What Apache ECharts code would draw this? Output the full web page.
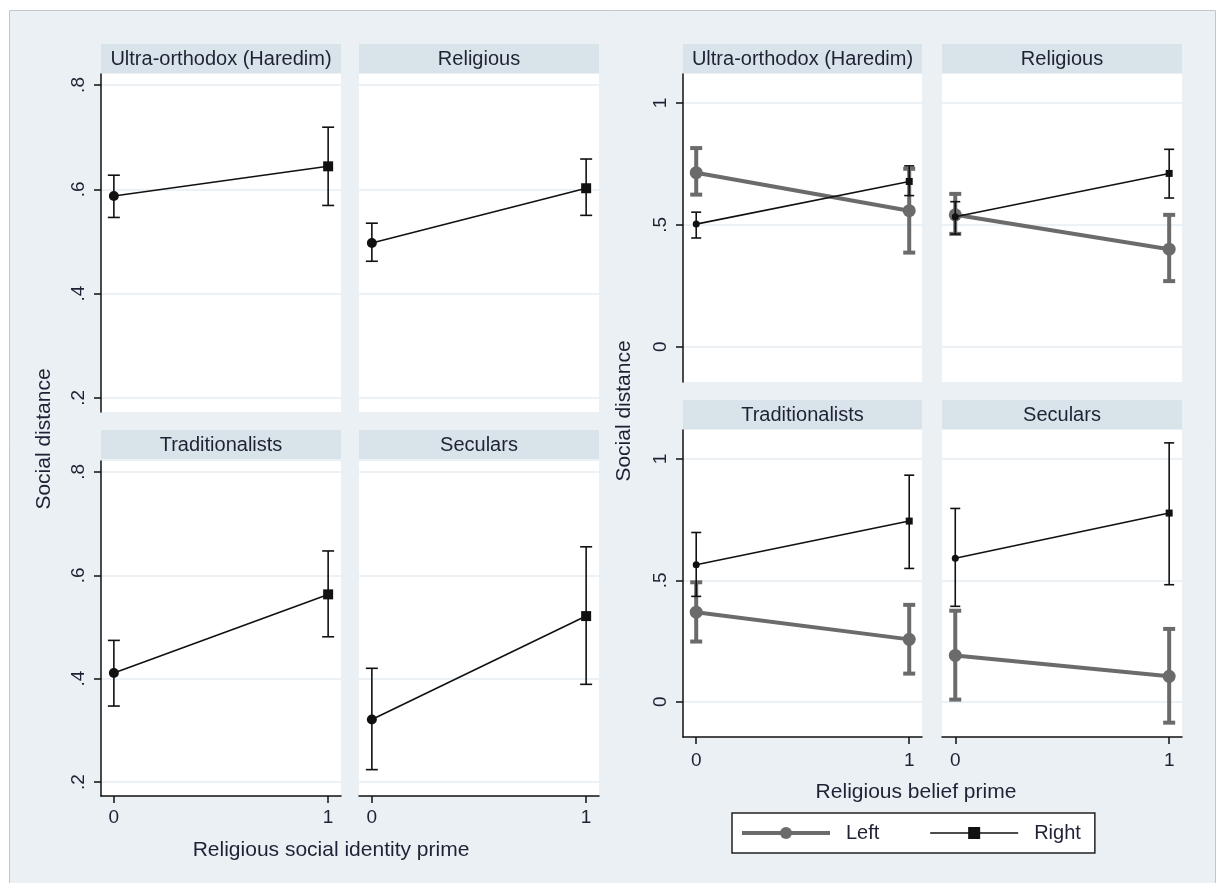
<!DOCTYPE html>
<html>
<head>
<meta charset="utf-8">
<script src="https://cdn.jsdelivr.net/npm/echarts@6/dist/echarts.min.js"></script>
<style>
  body { margin: 0; background: #fff; }
  #main { width: 1218px; height: 883px; }
</style>
</head>
<body>
<div id="main"></div>
<script>
var myChart = echarts.init(document.getElementById('main'));

var groups = ['Ultra-orthodox (Haredim)', 'Religious', 'Traditionalists', 'Seculars'];
var primeLevels = [0, 1];
var identityTicks = [0.2, 0.4, 0.6, 0.8];
var beliefTicks = [0, 0.5, 1];

// left graph: religious social identity prime
var identityMean = [[0.587, 0.644], [0.497, 0.602], [0.411, 0.563], [0.321, 0.521]];
var identityLow  = [[0.546, 0.569], [0.462, 0.550], [0.347, 0.481], [0.224, 0.389]];
var identityHigh = [[0.627, 0.719], [0.535, 0.658], [0.474, 0.647], [0.420, 0.655]];

// right graph: religious belief prime, by political camp
var leftMean  = [[0.714, 0.558], [0.541, 0.400], [0.369, 0.257], [0.191, 0.105]];
var leftLow   = [[0.624, 0.386], [0.463, 0.269], [0.248, 0.116], [0.009, -0.086]];
var leftHigh  = [[0.815, 0.730], [0.627, 0.541], [0.492, 0.399], [0.375, 0.300]];
var rightMean = [[0.503, 0.678], [0.533, 0.711], [0.564, 0.744], [0.591, 0.777]];
var rightLow  = [[0.446, 0.620], [0.462, 0.610], [0.434, 0.549], [0.393, 0.482]];
var rightHigh = [[0.552, 0.742], [0.595, 0.810], [0.697, 0.933], [0.796, 1.066]];

var FONT = '"Liberation Sans", Arial, sans-serif';
var TEXT = '#1f2235';
var GRAY = '#6b6b6b';
var STRIP = '#d9e4ea';

// panel boxes [left, top, width, height, stripTop]
var panels = [
    [101, 74, 240, 338, 44], [359, 74, 240, 338, 44],
    [101, 461, 240, 335, 430], [359, 461, 240, 335, 430],
    [683, 74, 239, 308, 44], [942, 74, 240, 308, 44],
    [683, 430, 239, 307, 400], [942, 430, 240, 307, 400]
];

function tickLabel(v) {
    return String(v).replace(/^0\./, '.');
}

var grids = [], xAxes = [], yAxes = [], series = [], graphics = [];

graphics.push({
    type: 'rect', z: -10,
    shape: {x: 9.5, y: 10.5, width: 1206, height: 880},
    style: {fill: '#eaf0f3', stroke: '#c2c6c8', lineWidth: 1}
});

panels.forEach(function (p, k) {
    var bottomRow = (k % 4) >= 2;
    var leftCol = (k % 2) === 0;
    var beliefGraph = k >= 4;
    var ticks = beliefGraph ? beliefTicks : identityTicks;

    grids.push({
        left: p[0], top: p[1], width: p[2], height: p[3],
        show: true, backgroundColor: '#fff', borderWidth: 0
    });
    xAxes.push({
        type: 'value', gridIndex: k,
        min: beliefGraph ? -0.062 : -0.06, max: 1.06,
        axisLine: {show: bottomRow, onZero: false, lineStyle: {color: '#111', width: 1.5}},
        axisTick: {show: bottomRow, length: 7, customValues: primeLevels, lineStyle: {color: '#111', width: 1.5}},
        axisLabel: {show: bottomRow, customValues: primeLevels, margin: beliefGraph ? 14 : 12,
            fontSize: 19, fontFamily: FONT, color: TEXT},
        splitLine: {show: false}
    });
    yAxes.push({
        type: 'value', gridIndex: k,
        min: beliefGraph ? -0.145 : 0.173, max: beliefGraph ? 1.119 : 0.821,
        axisLine: {show: leftCol, onZero: false, lineStyle: {color: '#111', width: 1.5}},
        axisTick: {show: leftCol, length: 7, customValues: ticks, lineStyle: {color: '#111', width: 1.5}},
        axisLabel: {show: leftCol, customValues: ticks, rotate: 90, margin: 13,
            fontSize: 19, fontFamily: FONT, color: TEXT, formatter: tickLabel},
        splitLine: {show: true, lineStyle: {color: '#e4ecf0', width: 1.5}}
    });

    graphics.push({
        type: 'rect', z: -5,
        shape: {x: p[0], y: p[4], width: p[2], height: 29},
        style: {fill: STRIP}
    });
    graphics.push({
        type: 'text', z: 5,
        style: {
            text: groups[k % 4], x: p[0] + p[2] / 2, y: p[4] + 15,
            textAlign: 'center', textVerticalAlign: 'middle',
            font: '20px ' + FONT, fill: TEXT
        }
    });
});

function errorBars(capHalf, color, width) {
    return function (params, api) {
        var x = api.value(0);
        var lo = api.coord([x, api.value(1)]);
        var hi = api.coord([x, api.value(2)]);
        var style = {stroke: color, lineWidth: width, fill: null};
        return {
            type: 'group',
            children: [
                {type: 'line', shape: {x1: lo[0], y1: lo[1], x2: hi[0], y2: hi[1]}, style: style},
                {type: 'line', shape: {x1: lo[0] - capHalf, y1: lo[1], x2: lo[0] + capHalf, y2: lo[1]}, style: style},
                {type: 'line', shape: {x1: hi[0] - capHalf, y1: hi[1], x2: hi[0] + capHalf, y2: hi[1]}, style: style}
            ]
        };
    };
}

// first level drawn with a circle, second with the series' own (square) marker
function meanData(arr, i, firstSymbol) {
    return primeLevels.map(function (x, j) {
        var item = {value: [x, arr[i][j]]};
        if (j === 0 && firstSymbol) item.symbol = firstSymbol;
        return item;
    });
}
function ciData(lo, hi, i) {
    return primeLevels.map(function (x, j) { return [x, lo[i][j], hi[i][j]]; });
}

for (var i = 0; i < 4; i++) {
    // left graph
    series.push({
        type: 'custom', xAxisIndex: i, yAxisIndex: i,
        renderItem: errorBars(6, '#111', 1.6),
        encode: {x: 0, y: [1, 2]},
        data: ciData(identityLow, identityHigh, i), z: 3, silent: true
    });
    series.push({
        type: 'line', xAxisIndex: i, yAxisIndex: i,
        data: meanData(identityMean, i, 'circle'),
        symbol: 'rect', symbolSize: 10,
        lineStyle: {color: '#111', width: 1.6},
        itemStyle: {color: '#111'}, z: 4
    });

    // right graph
    var g = i + 4;
    series.push({
        type: 'custom', xAxisIndex: g, yAxisIndex: g,
        renderItem: errorBars(6, GRAY, 4),
        encode: {x: 0, y: [1, 2]},
        data: ciData(leftLow, leftHigh, i), z: 2, silent: true
    });
    series.push({
        name: 'Left', type: 'line', xAxisIndex: g, yAxisIndex: g,
        data: meanData(leftMean, i),
        symbol: 'circle', symbolSize: 13,
        lineStyle: {color: GRAY, width: 4},
        itemStyle: {color: GRAY}, z: 2
    });
    series.push({
        type: 'custom', xAxisIndex: g, yAxisIndex: g,
        renderItem: errorBars(5, '#111', 1.6),
        encode: {x: 0, y: [1, 2]},
        data: ciData(rightLow, rightHigh, i), z: 4, silent: true
    });
    series.push({
        name: 'Right', type: 'line', xAxisIndex: g, yAxisIndex: g,
        data: meanData(rightMean, i, 'circle'),
        symbol: 'rect', symbolSize: 7,
        lineStyle: {color: '#111', width: 1.6},
        itemStyle: {color: '#111'}, z: 5
    });
}

// axis titles
graphics.push({
    type: 'text', x: 44, y: 439, rotation: Math.PI / 2,
    style: {text: 'Social distance', x: 0, y: 0, textAlign: 'center', textVerticalAlign: 'middle',
        font: '21px ' + FONT, fill: TEXT}
});
graphics.push({
    type: 'text',
    style: {text: 'Religious social identity prime', x: 331, y: 850, textAlign: 'center',
        textVerticalAlign: 'middle', font: '21px ' + FONT, fill: TEXT}
});
graphics.push({
    type: 'text', x: 624, y: 411, rotation: Math.PI / 2,
    style: {text: 'Social distance', x: 0, y: 0, textAlign: 'center', textVerticalAlign: 'middle',
        font: '21px ' + FONT, fill: TEXT}
});
graphics.push({
    type: 'text',
    style: {text: 'Religious belief prime', x: 916, y: 792, textAlign: 'center',
        textVerticalAlign: 'middle', font: '21px ' + FONT, fill: TEXT}
});

option = {
    animation: false,
    grid: grids,
    xAxis: xAxes,
    yAxis: yAxes,
    legend: {
        data: [
            {name: 'Left', lineStyle: {color: GRAY, width: 4}, itemStyle: {color: GRAY}},
            {name: 'Right', lineStyle: {color: '#111', width: 1.6}, itemStyle: {color: '#111'}}
        ],
        left: 732, top: 813,
        padding: [10, 14, 10, 8],
        itemWidth: 88, itemHeight: 15, itemGap: 50,
        backgroundColor: '#fff', borderColor: '#222', borderWidth: 1.5, borderRadius: 0,
        textStyle: {fontSize: 20, fontFamily: FONT, color: TEXT, padding: [0, 0, 0, 11]}
    },
    graphic: graphics,
    series: series
};

myChart.setOption(option);
</script>
</body>
</html>
